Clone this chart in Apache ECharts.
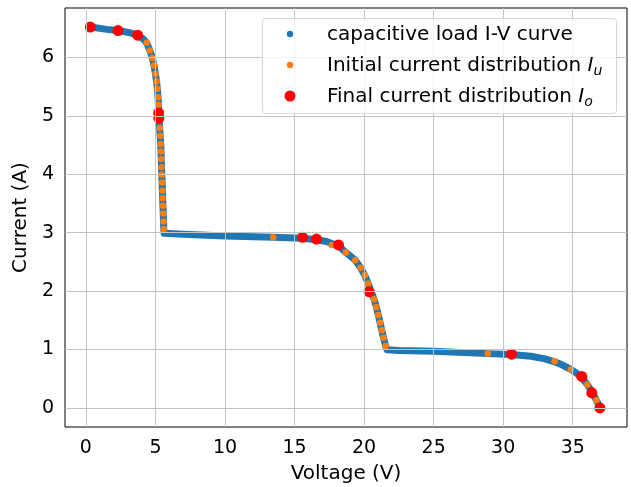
<!DOCTYPE html>
<html>
<head>
<meta charset="utf-8">
<script src="https://cdn.jsdelivr.net/npm/echarts@6/dist/echarts.min.js"></script>
<style>
    html, body {margin: 0; padding: 0; background: #fff;}
    #chart {width: 631px; height: 487px;}
</style>
</head>
<body>
<div id="chart"></div>
<script>
//I-V曲线（读图所得）
var curveV = [0.32, 1.5, 2.31, 3.2, 3.72, 4.1, 4.37, 4.6, 4.78, 4.9, 5.0, 5.08, 5.14, 5.19, 5.25, 5.3, 5.38, 5.44, 5.5, 5.56, 5.6, 5.63,
    7.0, 10.0, 13.47, 15.58, 16.58, 17.3, 17.68, 18.16, 18.7, 19.36, 19.75, 20.05, 20.3, 20.5, 20.72, 20.88, 21.02, 21.15, 21.27, 21.4, 21.55, 21.65,
    22.5, 25.0, 28.9, 30.55, 32.0, 33.0, 33.7, 34.3, 34.86, 35.25, 35.6, 36.05, 36.4, 36.7, 37.0];
var curveI = [6.52, 6.48, 6.46, 6.42, 6.38, 6.32, 6.25, 6.12, 5.99, 5.86, 5.72, 5.59, 5.46, 5.32, 5.06, 4.8, 4.52, 4.12, 3.72, 3.33, 3.06, 2.99,
    2.975, 2.945, 2.92, 2.905, 2.88, 2.85, 2.815, 2.775, 2.66, 2.53, 2.40, 2.27, 2.13, 2.0, 1.86, 1.73, 1.59, 1.46, 1.33, 1.20, 1.06, 0.995,
    0.985, 0.97, 0.93, 0.915, 0.885, 0.84, 0.79, 0.73, 0.66, 0.6, 0.53, 0.40, 0.27, 0.13, 0.0];
//初始电流分布 Iu
var initV = [0.32, 3.72, 4.37, 4.6, 4.78, 4.9, 5.0, 5.08, 5.14, 5.19, 5.22, 5.25, 5.28, 5.32, 5.35, 5.38, 5.4, 5.42, 5.44, 5.46, 5.48, 5.5, 5.52, 5.54, 5.56, 5.58, 5.6,
    13.47, 17.68, 18.7, 19.36, 19.75, 20.05, 20.3, 20.5, 20.72, 20.88, 21.02, 21.15, 21.27, 21.4, 21.55,
    28.9, 33.7, 34.86, 35.6, 36.05, 36.4, 36.7, 37.0];
var initI = [6.52, 6.39, 6.25, 6.12, 5.99, 5.86, 5.72, 5.59, 5.46, 5.32, 5.19, 5.06, 4.92, 4.79, 4.66, 4.52, 4.39, 4.26, 4.12, 3.99, 3.86, 3.72, 3.59, 3.46, 3.33, 3.19, 3.06,
    2.92, 2.79, 2.66, 2.53, 2.40, 2.27, 2.13, 2.0, 1.86, 1.73, 1.59, 1.46, 1.33, 1.20, 1.06,
    0.93, 0.80, 0.66, 0.53, 0.40, 0.27, 0.13, 0.0];
//最终电流分布 Io
var finalV = [0.32, 2.31, 3.72, 5.23, 5.25, 15.58, 16.58, 18.16, 20.35, 30.6, 35.65, 36.37, 36.95];
var finalI = [6.52, 6.46, 6.38, 5.05, 4.96, 2.92, 2.89, 2.79, 1.99, 0.92, 0.54, 0.26, 0.0];
//刻度
var xTicks = [0, 5, 10, 15, 20, 25, 30, 35];
var yTicks = [0, 1, 2, 3, 4, 5, 6];

var FONT = 'DejaVu Sans';

function zipData(xs, ys) {
    var out = [];
    for (var i = 0; i < xs.length; i++) {
        out.push([xs[i], ys[i]]);
    }
    return out;
}

//图例文字（带下标）
function legendText(y, main, sub) {
    return {
        type: 'text', z: 11, x: 327, y: y,
        style: {
            text: '{n|' + main + ' }{i|I}{s|' + sub + '}',
            verticalAlign: 'middle', fill: '#000',
            rich: {
                n: {fontFamily: FONT, fontSize: 20, fill: '#000'},
                i: {fontFamily: FONT, fontSize: 20, fontStyle: 'italic', fill: '#000'},
                s: {fontFamily: FONT, fontSize: 14, fontStyle: 'italic', fill: '#000', padding: [10, 0, 0, 0]}
            }
        }
    };
}

var chart = echarts.init(document.getElementById('chart'), null, {renderer: 'canvas'});
var option = {
    animation: false,
    backgroundColor: '#fff',
    grid: {
        left: 65, right: 4, top: 8, bottom: 60,
        outerBoundsMode: 'none', containLabel: false,
        show: true, borderColor: '#000', borderWidth: 1, backgroundColor: 'transparent'
    },
    xAxis: {
        type: 'value',
        min: -1.5, max: 38.9,
        name: 'Voltage (V)', nameLocation: 'middle', nameGap: 37,
        nameTextStyle: {fontFamily: FONT, fontSize: 20, color: '#000'},
        axisLine: {show: false},
        axisTick: {show: true, customValues: xTicks, length: 4, lineStyle: {color: '#000'}},
        axisLabel: {customValues: xTicks, fontFamily: FONT, fontSize: 19, color: '#000', margin: 12},
        splitLine: {show: false}
    },
    yAxis: {
        type: 'value',
        min: -0.326, max: 6.846,
        name: 'Current (A)', nameLocation: 'middle', nameGap: 29, nameRotate: 90,
        nameTextStyle: {fontFamily: FONT, fontSize: 20, color: '#000'},
        axisLine: {show: false},
        axisTick: {show: true, customValues: yTicks, length: 4, lineStyle: {color: '#000'}},
        axisLabel: {customValues: yTicks, fontFamily: FONT, fontSize: 19, color: '#000', margin: 11},
        splitLine: {show: false}
    },
    series: [
        {
            name: 'grid',
            type: 'line',
            data: [],
            silent: true,
            markLine: {
                silent: true,
                symbol: 'none',
                label: {show: false},
                lineStyle: {color: '#c4c4c4', width: 1, type: 'solid'},
                data: xTicks.map(function (v) { return {xAxis: v}; }).concat(
                      yTicks.map(function (v) { return {yAxis: v}; }))
            },
            z: 1
        },
        {
            name: 'capacitive load I-V curve',
            type: 'line',
            data: zipData(curveV, curveI),
            showSymbol: false,
            lineStyle: {color: '#1f77b4', width: 7, cap: 'round', join: 'round'},
            z: 2
        },
        {
            name: 'Initial current distribution',
            type: 'scatter',
            data: zipData(initV, initI),
            symbolSize: 6.5,
            itemStyle: {color: '#ff7f0e', opacity: 1},
            z: 3
        },
        {
            name: 'Final current distribution',
            type: 'scatter',
            data: zipData(finalV, finalI),
            symbolSize: 11,
            itemStyle: {color: '#ff0000', opacity: 1},
            z: 4
        }
    ],
    graphic: [
        {
            type: 'rect', left: 262, top: 18, z: 10,
            shape: {width: 354, height: 95, r: 3},
            style: {fill: 'rgba(255,255,255,0.8)', stroke: '#d6d6d6', lineWidth: 1}
        },
        {type: 'circle', z: 11, shape: {cx: 290, cy: 34, r: 3.2}, style: {fill: '#1f77b4'}},
        {type: 'circle', z: 11, shape: {cx: 290, cy: 65, r: 3.2}, style: {fill: '#ff7f0e'}},
        {type: 'circle', z: 11, shape: {cx: 290, cy: 96, r: 5.5}, style: {fill: '#ff0000'}},
        {
            type: 'text', z: 11, x: 327, y: 35,
            style: {text: 'capacitive load I-V curve', font: '20px "DejaVu Sans"', fill: '#000', verticalAlign: 'middle'}
        },
        legendText(66, 'Initial current distribution', 'u'),
        legendText(97, 'Final current distribution', 'o')
    ]
};
chart.setOption(option);
</script>
</body>
</html>
